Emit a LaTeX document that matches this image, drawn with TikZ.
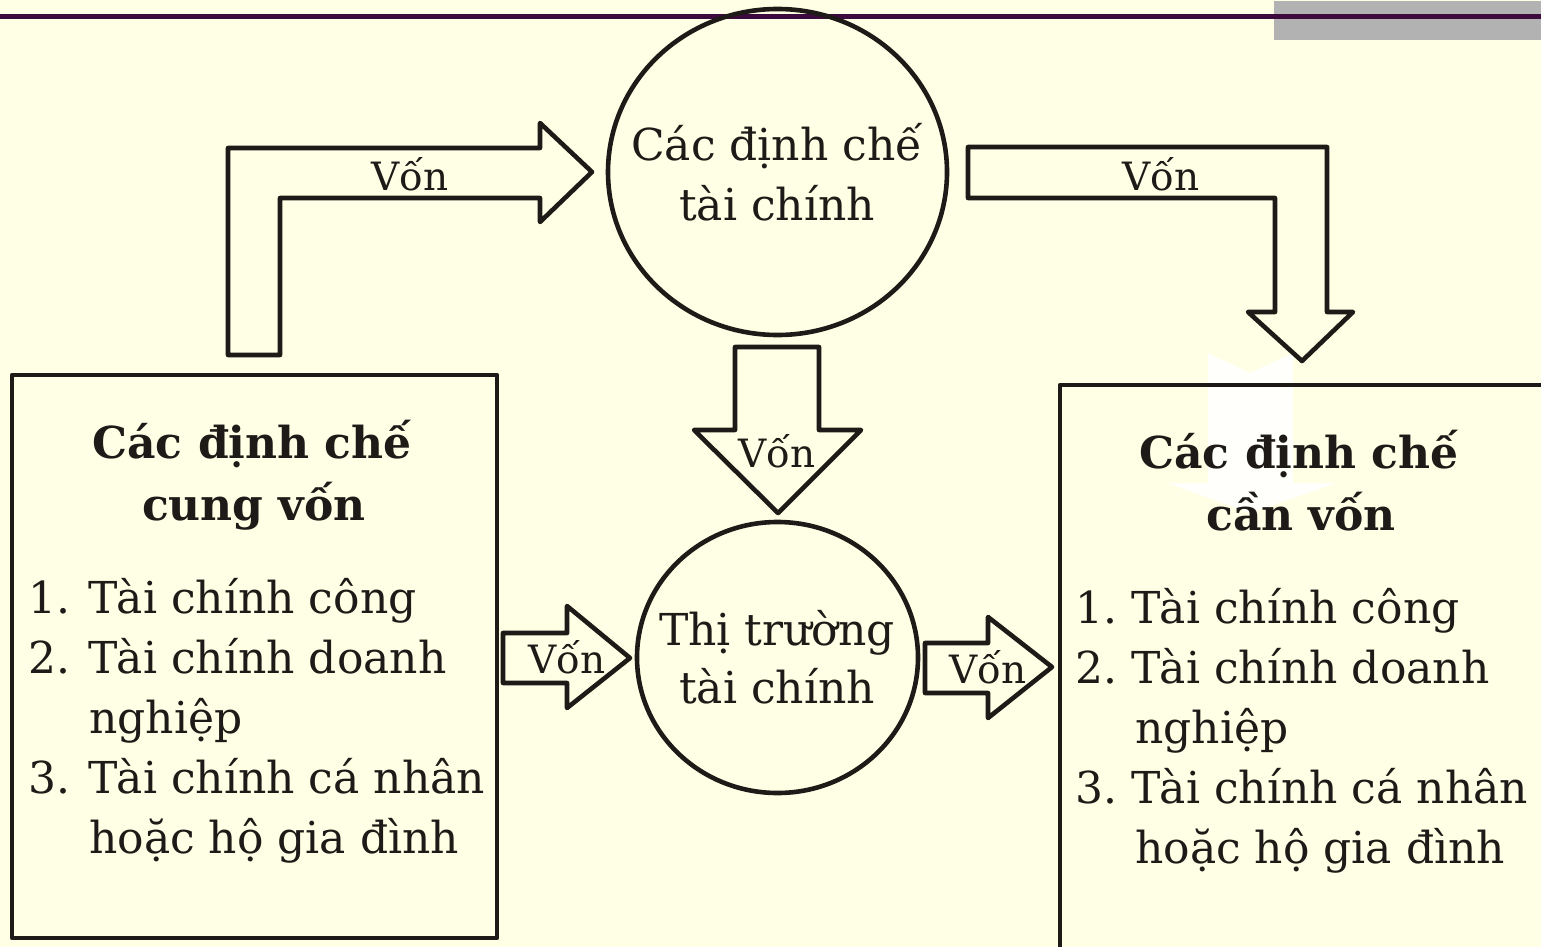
\documentclass[tikz,border=0pt]{standalone}
\usepackage{fontspec}
\setmainfont{DejaVu Serif}
\usetikzlibrary{shapes.geometric}
\definecolor{bg}{RGB}{255,255,229}
\definecolor{ink}{RGB}{30,26,23}
\definecolor{rulecol}{RGB}{60,10,60}
\definecolor{graybar}{RGB}{178,178,178}
\tikzset{
  blockarrow/.style={draw=ink, line width=4.6pt, line join=round},
  boxstyle/.style={draw=ink, line width=4.6pt, rectangle, inner sep=0pt, outer sep=0pt, line join=round},
  circ/.style={draw=ink, line width=4.6pt, ellipse, inner sep=0pt},
  lbl/.style={font=\fontsize{39}{47}\selectfont, text=ink, inner sep=0pt, anchor=base},
  body/.style={font=\fontsize{44}{60}\selectfont, text=ink, inner sep=0pt, anchor=base west},
  ctext/.style={font=\fontsize{44}{60}\selectfont, text=ink, inner sep=0pt, anchor=base},
  ttl/.style={font=\fontsize{44}{60}\selectfont\bfseries, text=ink, inner sep=0pt, anchor=base},
}
\begin{document}
\begin{tikzpicture}[x=1pt,y=-1pt]
\fill[bg] (0,0) rectangle (1541,947);
\useasboundingbox (0,0) rectangle (1541,947);
% header decoration
\fill[graybar] (1274,1) rectangle (1541,40);
\draw[rulecol, line width=5pt] (0,17) -- (1541,17);
% faint white arrow behind the right box
\fill[white, opacity=0.85] (1208,353) -- (1250,373) -- (1293,353) -- (1293,483) -- (1337,483) -- (1250,513) -- (1167,483) -- (1208,483) -- cycle;
% boxes
\node[boxstyle, minimum width=485pt, minimum height=563pt] (supply) at (254.5,656.5) {};
\node[boxstyle, anchor=north west, minimum width=520pt, minimum height=600pt] (demand) at (1060,385) {};
% circles
\node[circ, minimum width=339pt, minimum height=326pt] (inst) at (777.5,172) {};
\node[circ, minimum width=281pt, minimum height=271pt] (market) at (777.5,657.5) {};
% block arrows
\draw[blockarrow] (228,355) -- (228,148) -- (540,148) -- (540,123) -- (592,172) -- (540,222) -- (540,198) -- (280,198) -- (280,355) -- cycle;
\draw[blockarrow] (968,147) -- (1327,147) -- (1327,312) -- (1353,312) -- (1302,361) -- (1248,312) -- (1275,312) -- (1275,198) -- (968,198) -- cycle;
\draw[blockarrow] (735,347) -- (819,347) -- (819,430) -- (861,430) -- (778,513) -- (694,430) -- (735,430) -- cycle;
\draw[blockarrow] (503,633) -- (567,633) -- (567,606) -- (630,658) -- (567,708) -- (567,683) -- (503,683) -- cycle;
\draw[blockarrow] (925,643) -- (988,643) -- (988,617) -- (1052,667) -- (988,718) -- (988,693) -- (925,693) -- cycle;
% arrow labels
\node[lbl] (v1) at (410,190) {Vốn};
\node[lbl] (v2) at (1161,190) {Vốn};
\node[lbl] (v3) at (777,467) {Vốn};
\node[lbl] (v4) at (567,673) {Vốn};
\node[lbl] (v5) at (988,683) {Vốn};
% circle texts
\node[ctext] (inst1) at (777,160) {Các định chế};
\node[ctext] (inst2) at (777,220) {tài chính};
\node[ctext] (mk1) at (777,645) {Thị trường};
\node[ctext] (mk2) at (777,703) {tài chính};
% left box texts
\node[ttl] (st1) at (252,458) {Các định chế};
\node[ttl] (st2) at (254,520) {cung vốn};
\node[body] (sl1) at (28,613) {1. Tài chính công};
\node[body] (sl2) at (28,673) {2. Tài chính doanh};
\node[body] (sl3) at (89,733) {nghiệp};
\node[body] (sl4) at (28,793) {3. Tài chính cá nhân};
\node[body] (sl5) at (89,853) {hoặc hộ gia đình};
% right box texts
\node[ttl] (dt1) at (1299,468) {Các định chế};
\node[ttl] (dt2) at (1301,530) {cần vốn};
\node[body] (dl1) at (1075,623) {1.\hspace{-4pt} Tài chính công};
\node[body] (dl2) at (1075,683) {2.\hspace{-4pt} Tài chính doanh};
\node[body] (dl3) at (1135,743) {nghiệp};
\node[body] (dl4) at (1075,803) {3.\hspace{-4pt} Tài chính cá nhân};
\node[body] (dl5) at (1135,863) {hoặc hộ gia đình};
\end{tikzpicture}
\end{document}
